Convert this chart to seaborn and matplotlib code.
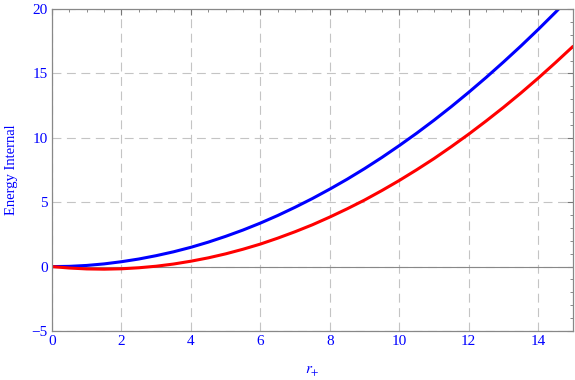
import numpy as np
import pandas as pd
import seaborn as sns
import matplotlib.pyplot as plt
from matplotlib.ticker import MultipleLocator

# values, every 0.5 in r+
r_plus = [0.0, 0.5, 1.0, 1.5, 2.0, 2.5, 3.0, 3.5, 4.0, 4.5, 5.0, 5.5, 6.0, 6.5, 7.0, 7.5,
          8.0, 8.5, 9.0, 9.5, 10.0, 10.5, 11.0, 11.5, 12.0, 12.5, 13.0, 13.5, 14.0, 14.5, 15.0]
energy_blue = [0.0, 0.02, 0.09, 0.21, 0.38, 0.59, 0.85, 1.15, 1.50, 1.90, 2.35, 2.84, 3.38, 3.97,
               4.61, 5.29, 6.02, 6.79, 7.61, 8.48, 9.40, 10.36, 11.37, 12.43, 13.54, 14.69,
               15.89, 17.13, 18.42, 19.76, 21.15]
energy_red = [0.0, -0.11, -0.18, -0.20, -0.17, -0.09, 0.03, 0.20, 0.42, 0.68, 0.99, 1.35, 1.75,
              2.21, 2.71, 3.25, 3.85, 4.49, 5.17, 5.91, 6.69, 7.52, 8.39, 9.32, 10.29, 11.31,
              12.37, 13.48, 14.64, 15.85, 17.10]

df = pd.DataFrame({"r": r_plus * 2,
                   "E": energy_blue + energy_red,
                   "curve": ["blue"] * len(r_plus) + ["red"] * len(r_plus)})

sns.set_style("white")
plt.rcParams['font.family'] = ['Liberation Serif', 'DejaVu Serif']
plt.rcParams['mathtext.fontset'] = 'stix'

fig = plt.figure(figsize=(5.75, 3.8), dpi=100)
ax = fig.add_axes([0.0904, 0.129, 0.906, 0.847])

sns.lineplot(data=df, x="r", y="E", hue="curve", palette={"blue": "#0000ff", "red": "#ff0000"},
             linewidth=2.2, legend=False, ax=ax)

ax.axhline(0, color="#888888", linewidth=0.8, zorder=1)
ax.set_xlim(0, 15)
ax.set_ylim(-5, 20)

ax.xaxis.set_major_locator(MultipleLocator(2))
ax.xaxis.set_minor_locator(MultipleLocator(0.5))
ax.yaxis.set_major_locator(MultipleLocator(5))
ax.yaxis.set_minor_locator(MultipleLocator(1))
ax.tick_params(which="both", direction="in", top=True, right=True, color="#777777",
               labelcolor="#0000ff", labelsize=11, pad=3)
ax.tick_params(which="major", length=4.5, width=0.8)
ax.tick_params(which="minor", length=2.5, width=0.6)
ax.grid(True, which="major", color="#c4c4c4", linestyle=(0, (8, 5)), linewidth=0.8)
for s in ax.spines.values():
    s.set_color("#888888")
    s.set_linewidth(0.9)

ax.set_xlabel(r"$r_{+}$", color="#0000ff", fontsize=11, labelpad=12)
ax.set_ylabel("Energy Internal", color="#0000ff", fontsize=10.5, labelpad=10)

fig.savefig("out.png", dpi=100)
